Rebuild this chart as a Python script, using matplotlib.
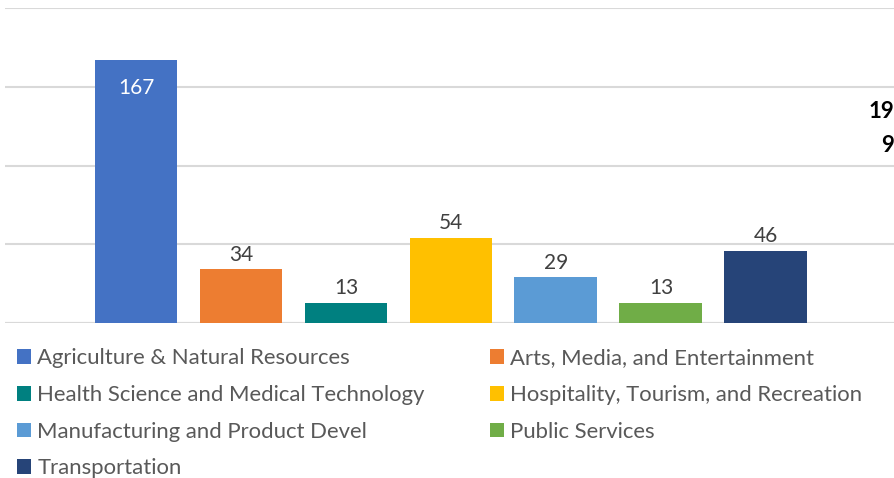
import matplotlib

matplotlib.use("Agg")
import matplotlib.pyplot as plt
from matplotlib.patches import Patch

categories = [
    "Agriculture & Natural Resources",
    "Arts, Media, and Entertainment",
    "Health Science and Medical Technology",
    "Hospitality, Tourism, and Recreation",
    "Manufacturing and Product Devel",
    "Public Services",
    "Transportation",
]
values = [167, 34, 13, 54, 29, 13, 46]
colors = ["#4472C4", "#ED7D31", "#008080", "#FFC000", "#5B9BD5", "#70AD47", "#264478"]
yticks = [0, 50, 100, 150, 200]

plt.rcParams["font.family"] = ["Lato", "DejaVu Sans"]
GRID = "#d9d9d9"
TEXT = "#404040"

fig = plt.figure(figsize=(8.94, 4.78), dpi=100)
ax = fig.add_axes([5 / 894, 155 / 478, 889 / 894, 315 / 478])

x = list(range(len(categories)))
ax.bar(x, values, width=0.79, color=colors, zorder=3)

for xi, v in zip(x, values):
    if v == max(values):
        ax.text(xi, v - 18, str(v), ha="center", va="center",
                color="white", fontsize=15)
    else:
        ax.text(xi, v + 3, str(v), ha="center", va="bottom",
                color=TEXT, fontsize=15)

ax.set_xlim(-1.248, 7.22)
ax.set_ylim(0, 200)
ax.set_yticks(yticks)
ax.yaxis.grid(True, color=GRID, lw=1.5, zorder=0)
ax.tick_params(left=False, bottom=False, labelleft=False, labelbottom=False)
for s in ax.spines.values():
    s.set_visible(False)
ax.axhline(0, color=GRID, lw=1.5, zorder=2)

# total box at right edge, cut off in the source
fig.text(1.0, 1 - 112 / 478, "19", ha="right", va="center",
         fontsize=16, fontweight="bold", color="black")
fig.text(1.0, 1 - 145 / 478, "9", ha="right", va="center",
         fontsize=16, fontweight="bold", color="black")

# legend is filled row by row in the source (matplotlib fills columns)
order = [0, 2, 4, 6, 1, 3, 5]
handles = [Patch(facecolor=colors[i], edgecolor="none") for i in order]
labels = [categories[i] for i in order]
fig.legend(handles, labels, ncol=2, loc="upper left",
           bbox_to_anchor=(0.002, 1 - 333 / 478), frameon=False,
           fontsize=15.9, labelcolor="#595959",
           handlelength=0.64, handleheight=0.64, handletextpad=0.27,
           columnspacing=2.95, labelspacing=0.755, borderaxespad=0.3)

fig.savefig("out.png", dpi=100)
